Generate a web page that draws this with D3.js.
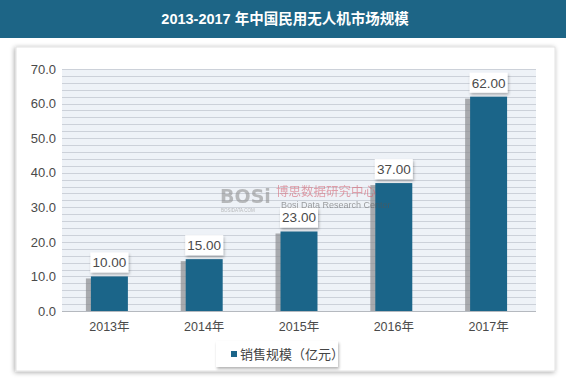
<!DOCTYPE html>
<html><head><meta charset="utf-8">
<script src="https://cdn.jsdelivr.net/npm/d3@7"></script>
<style>body{margin:0;background:#fff;}svg{display:block;}</style>
</head><body>
<script>
const title = "2013-2017 年中国民用无人机市场规模";
const categories = ["2013年","2014年","2015年","2016年","2017年"];
const values = [10, 15, 23, 37, 62];
const yTicks = [0,10,20,30,40,50,60,70];
const seriesName = "销售规模（亿元）";

const W = 566, H = 381;
const svg = d3.select("body").append("svg").attr("width", W).attr("height", H);
const defs = svg.append("defs");
const f = defs.append("filter").attr("id","panelShadow").attr("x","-5%").attr("y","-5%").attr("width","110%").attr("height","110%");
f.append("feGaussianBlur").attr("in","SourceAlpha").attr("stdDeviation",2.5);
f.append("feOffset").attr("dx",-1).attr("dy",1).attr("result","b");
f.append("feComponentTransfer").append("feFuncA").attr("type","linear").attr("slope",0.35);
const fm = f.append("feMerge"); fm.append("feMergeNode"); fm.append("feMergeNode").attr("in","SourceGraphic");
const f2 = defs.append("filter").attr("id","boxShadow").attr("x","-20%").attr("y","-20%").attr("width","140%").attr("height","150%");
f2.append("feGaussianBlur").attr("in","SourceAlpha").attr("stdDeviation",1.5);
f2.append("feOffset").attr("dx",1).attr("dy",2);
f2.append("feComponentTransfer").append("feFuncA").attr("type","linear").attr("slope",0.3);
const fm2 = f2.append("feMerge"); fm2.append("feMergeNode"); fm2.append("feMergeNode").attr("in","SourceGraphic");

// header
svg.append("rect").attr("x",0).attr("y",0).attr("width",W).attr("height",38).attr("fill","#1d6586");
svg.append("text").attr("x",285).attr("y",24).attr("text-anchor","middle")
  .attr("font-family","Liberation Sans, Noto Sans CJK SC, sans-serif").attr("font-weight","bold")
  .attr("font-size",14.5).attr("fill","#fff").text(title);

// panel
svg.append("rect").attr("x",16).attr("y",47).attr("width",539).attr("height",324)
  .attr("fill","#fff").attr("stroke","#e2e2e2").attr("filter","url(#panelShadow)");

const m = {l:62, r:536, t:69, b:311};
const x = d3.scaleBand().domain(categories).range([m.l, m.r]).paddingInner(0.61).paddingOuter(0.305);
const y = d3.scaleLinear().domain([0,70]).range([m.b, m.t]);

// plot background + minor grid
svg.append("rect").attr("x",m.l).attr("y",m.t).attr("width",m.r-m.l).attr("height",m.b-m.t).attr("fill","#eef2f7");
svg.append("g").selectAll("line").data(d3.range(2,71,2)).join("line")
  .attr("x1",m.l).attr("x2",m.r).attr("y1",d=>Math.round(y(d))+0.5).attr("y2",d=>Math.round(y(d))+0.5)
  .attr("stroke","#ccd1d9").attr("stroke-width",1);
svg.append("line").attr("x1",m.l).attr("x2",m.r).attr("y1",m.b+0.5).attr("y2",m.b+0.5).attr("stroke","#b5b9bf");

// y axis
const yAxis = svg.append("g").attr("transform",`translate(${m.l-6},0)`)
  .call(d3.axisLeft(y).tickValues(yTicks).tickFormat(d3.format(".1f")).tickSize(0).tickPadding(0));
yAxis.select(".domain").remove();
yAxis.selectAll("text").attr("font-family","Liberation Sans, sans-serif").attr("font-size",13).attr("fill","#4a4a4a");

// x axis
const xAxis = svg.append("g").attr("transform",`translate(0,${m.b+9})`)
  .call(d3.axisBottom(x).tickSize(0).tickPadding(0));
xAxis.select(".domain").remove();
xAxis.selectAll("text").attr("font-family","Liberation Sans, Noto Sans CJK SC, sans-serif").attr("font-size",12.5).attr("fill","#4a4a4a").attr("dy","0.9em");

// bar shadows
svg.append("g").selectAll("rect").data(values).join("rect")
  .attr("x",(d,i)=>x(categories[i])-5).attr("y",d=>y(d)+2).attr("width",x.bandwidth())
  .attr("height",d=>m.b-y(d)-2).attr("fill","#8a8c8f").attr("opacity",0.7);
// bars
svg.append("g").selectAll("rect").data(values).join("rect")
  .attr("x",(d,i)=>x(categories[i])).attr("y",d=>y(d)).attr("width",x.bandwidth())
  .attr("height",d=>m.b-y(d)).attr("fill","#1b6589");

// labels
const lg = svg.append("g").selectAll("g").data(values).join("g")
  .attr("transform",(d,i)=>`translate(${x(categories[i])+x.bandwidth()/2},${y(d)-14})`);
lg.append("rect").attr("x",-19).attr("y",-10).attr("width",38).attr("height",20).attr("fill","#fff").attr("filter","url(#boxShadow)");
lg.append("text").attr("text-anchor","middle").attr("dy","0.36em")
  .attr("font-family","Liberation Sans, sans-serif").attr("font-size",13.5).attr("fill","#4a4a4a")
  .text(d=>d3.format(".2f")(d));

// watermark
const wm = svg.append("g").attr("opacity",0.55);
wm.append("text").attr("x",220).attr("y",203).attr("font-family","DejaVu Sans, sans-serif").attr("font-weight","bold")
  .attr("font-size",19).attr("fill","#8a8a8a").text("BOSi");
wm.append("text").attr("x",221).attr("y",212).attr("font-family","Liberation Sans, sans-serif").attr("font-size",4.5).attr("fill","#888").text("BOSIDATA.COM");
wm.append("text").attr("x",276).attr("y",196).attr("font-family","Noto Sans CJK SC, sans-serif").attr("font-size",12.5).attr("fill","#d45a6a").text("博思数据研究中心");
wm.append("text").attr("x",281).attr("y",207.5).attr("font-family","Liberation Sans, sans-serif").attr("font-size",9).attr("fill","#555").text("Bosi Data Research Center");

// legend
const leg = svg.append("g");
leg.append("rect").attr("x",216).attr("y",341).attr("width",122).attr("height",26).attr("fill","#fff").attr("filter","url(#boxShadow)");
leg.append("rect").attr("x",231).attr("y",351).attr("width",6).attr("height",6).attr("fill","#1b6589");
leg.append("text").attr("x",240).attr("y",359).attr("font-family","Noto Sans CJK SC, sans-serif").attr("font-size",13).attr("fill","#444").text(seriesName);
</script>
</body></html>
